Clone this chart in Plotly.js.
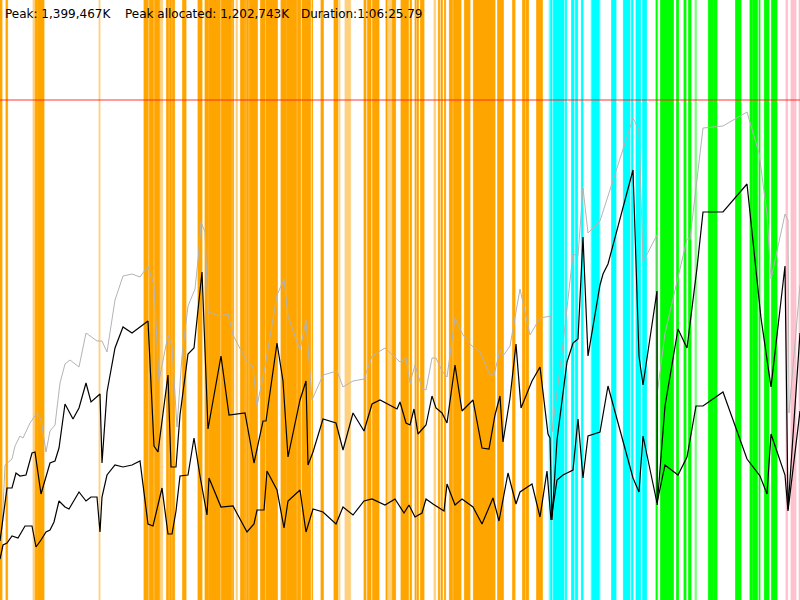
<!DOCTYPE html>
<html>
<head>
<meta charset="utf-8">
<script src="https://cdn.plot.ly/plotly-3.0.1.min.js"></script>
<style>
  html, body { margin: 0; padding: 0; background: #fff; }
  #chart { width: 800px; height: 600px; }
</style>
</head>
<body>
<div id="chart"></div>
<script>
// memory values are % of peak heap (1,399,467K = 100), time in seconds
const PEAK_LEVEL = 100;

const heapTime = [10, 25, 60, 75, 100, 115, 150, 185, 205, 230, 250, 275, 300, 325, 350, 395, 430, 485, 510, 535,
  575, 615, 660, 700, 740, 770, 795, 840, 860, 885, 910, 940, 975, 995, 1005, 1025, 1040, 1100, 1140, 1165,
  1235, 1265, 1285, 1325, 1385, 1420, 1440, 1500, 1530, 1560, 1615, 1685, 1715, 1765, 1820, 1860, 1925, 2000, 2030, 2050,
  2075, 2110, 2130, 2160, 2180, 2210, 2235, 2275, 2315, 2360, 2400, 2450, 2470, 2500, 2515, 2550, 2600, 2650, 2700, 2755,
  2760, 2815, 2865, 2890, 2915, 2940, 3000, 3165, 3195, 3215, 3285, 3286, 3325, 3435, 3450, 3515, 3615, 3735, 3795, 3835,
  3855, 3925, 3940, 3945, 4000];
const heapSize = [14, 27, 28.2, 30.8, 32.8, 32.4, 35.4, 37.4, 36.2, 29.6, 33.8, 35, 43.4, 47.2, 48, 46.6, 53.4, 51.8, 51.8, 49.6,
  60, 64.8, 65.2, 64.6, 66.8, 63, 43.8, 53, 50.8, 34.6, 48.8, 58.8, 62.2, 70, 75.6, 73.6, 57.6, 56.8, 57.2, 53,
  47.6, 46.6, 38.8, 46.6, 61, 64.2, 56.8, 50, 56, 40, 45, 45.8, 42.6, 43.8, 44.2, 48.8, 50.4, 47.6, 48.4, 43.4,
  47, 42.4, 42, 48.4, 48.4, 45.8, 44.6, 56.4, 53, 50.8, 49.6, 45, 45, 50, 48.8, 50.8, 62.2, 53, 56.4, 56.8,
  33.6, 51.2, 69.2, 68.8, 82.4, 73.4, 75.8, 96.4, 94, 67.6, 73, 41.2, 53.4, 72.2, 72.2, 94.4, 94.8, 97.6, 89.4, 77.2,
  64.2, 77.2, 76, 37.4, 63];

const usedTime = [0, 35, 60, 80, 100, 130, 160, 175, 205, 250, 275, 295, 325, 365, 395, 430, 455, 485, 500, 510,
  535, 575, 615, 660, 700, 740, 770, 790, 840, 855, 880, 900, 940, 970, 1010, 1040, 1105, 1145, 1225, 1270,
  1315, 1330, 1385, 1415, 1440, 1500, 1530, 1540, 1565, 1615, 1680, 1715, 1765, 1820, 1860, 1900, 1985, 2000, 2030, 2050,
  2070, 2090, 2130, 2160, 2180, 2210, 2235, 2275, 2310, 2365, 2410, 2445, 2475, 2500, 2515, 2550, 2580, 2605, 2660, 2700,
  2740, 2750, 2760, 2785, 2835, 2865, 2890, 2915, 2940, 3000, 3015, 3040, 3165, 3195, 3215, 3285, 3286, 3325, 3390, 3435,
  3485, 3515, 3615, 3735, 3805, 3855, 3925, 3940, 4000];
const usedMem = [11.8, 22.4, 22.4, 25.4, 24.8, 25, 29.4, 29.6, 21.2, 27.4, 27.8, 30.4, 39.2, 36.2, 38.4, 43.4, 39.6, 40.8, 41.2, 27.4,
  41.6, 50.4, 54.6, 53.4, 54.6, 55.8, 30.8, 29.6, 45, 26.6, 26.6, 37, 49.2, 50.4, 65.6, 34.2, 48.8, 37, 37.4, 27.4,
  35.8, 35.8, 51.4, 43.8, 28.6, 40, 43.8, 27, 29.6, 36.2, 35.4, 30, 37.4, 33.8, 39.2, 40, 38.2, 39.6, 35.4, 35,
  38.2, 33.2, 35, 40.8, 38.4, 37.4, 35.4, 47, 37.8, 40, 30.4, 30.2, 37, 40.8, 31.6, 40.4, 51.2, 38.4, 43.8, 46.6,
  33.2, 32.4, 16, 32, 47.6, 51.4, 52.2, 72.6, 48.8, 63, 65.2, 67.2, 86, 48.8, 43, 61.8, 19, 38.8, 54.2, 50.4,
  66.4, 77.6, 77.6, 83.2, 56.4, 42.6, 66.8, 18.2, 53.4];

const liveTime = [0, 15, 35, 60, 90, 125, 160, 180, 205, 230, 250, 270, 295, 325, 345, 395, 430, 455, 485, 500,
  510, 535, 575, 615, 660, 700, 740, 765, 810, 840, 860, 880, 900, 940, 970, 1000, 1035, 1045, 1105, 1165,
  1235, 1270, 1285, 1320, 1335, 1385, 1420, 1440, 1500, 1530, 1565, 1615, 1680, 1715, 1765, 1820, 1860, 1925, 1975, 2000,
  2020, 2045, 2075, 2110, 2130, 2165, 2220, 2235, 2275, 2310, 2365, 2410, 2465, 2495, 2540, 2580, 2600, 2660, 2700, 2735,
  2755, 2785, 2815, 2865, 2890, 2915, 2940, 3000, 3040, 3165, 3195, 3215, 3285, 3325, 3390, 3435, 3480, 3515, 3615, 3735,
  3800, 3835, 3855, 3925, 3940, 4000];
const liveMem = [8.2, 11, 11.4, 12.8, 12.4, 14.8, 14.8, 10.6, 12, 13.6, 14, 15.6, 19.8, 18.6, 18.2, 21.6, 19.8, 20.6, 20.6, 13.6,
  20.6, 25, 27, 26.6, 27, 27.8, 15.2, 14.8, 22.4, 13.2, 13.2, 17.8, 24.8, 25, 32.4, 24.8, 17, 24.4, 18.6, 18.8,
  13.6, 15.2, 18, 18, 25.8, 22, 14.4, 19.8, 22, 13.6, 18.2, 17.6, 15.2, 18.6, 17, 19.8, 20.2, 19, 20.2, 18.6,
  17.4, 19, 16.6, 17.4, 20.2, 19.2, 17.8, 23.2, 19, 20.2, 18.6, 15.2, 20.4, 15.8, 25.4, 19.2, 21.6, 23.2, 16.6, 25.8,
  16, 24, 25, 26, 36.2, 24.4, 32.8, 33.6, 42.8, 24.4, 21.6, 32.8, 19.4, 27, 25, 28.6, 38.8, 38.8, 41.6, 28.2,
  24.8, 21.2, 33.2, 25, 17.8, 37.8];

// GC events: [start, end] in seconds
const minorGc = [[0, 10], [30, 38], [177, 187], [190, 220], [720, 741], [747, 767], [773, 797], [833, 843], [848, 857],
  [862, 873], [913, 930], [990, 1010], [1025, 1042], [1045, 1100], [1108, 1158], [1163, 1168], [1203, 1220], [1223, 1228],
  [1233, 1242], [1247, 1287], [1303, 1325], [1330, 1387], [1405, 1430], [1433, 1483], [1488, 1503], [1510, 1553],
  [1560, 1563], [1605, 1617], [1670, 1690], [1820, 1830], [1838, 1855], [1863, 1895], [1930, 1935], [1962, 1978],
  [2005, 2042], [2050, 2058], [2075, 2080], [2085, 2092], [2102, 2120], [2192, 2198], [2205, 2212], [2222, 2228],
  [2247, 2262], [2267, 2305], [2322, 2350], [2367, 2475], [2488, 2517], [2563, 2575], [2613, 2625], [2630, 2643],
  [2683, 2712]];
const minorGcShort = [[165, 175], [495, 500], [800, 813], [1100, 1108], [1180, 1187], [1697, 1700], [1725, 1753],
  [1938, 1962], [2170, 2178]];
const cmsGc = [[2753, 2760], [2767, 2820], [2827, 2833], [2858, 2870], [2878, 2888], [2907, 2915], [2960, 2995],
  [3058, 3080], [3117, 3150], [3158, 3165], [3180, 3203], [3213, 3233]];
const cmsGcShort = [[2745, 2750], [2955, 2960], [2995, 3000]];
const fullGc = [[3280, 3285], [3303, 3367], [3383, 3393], [3420, 3430], [3443, 3455], [3542, 3567], [3570, 3585],
  [3678, 3705], [3750, 3762], [3765, 3787], [3795, 3800], [3822, 3845], [3858, 3885]];
const fullGcShort = [[3285, 3288], [3475, 3483]];
const finalGc = [[3930, 3938], [3955, 3972], [3975, 3980], [3995, 4000]];

const Y_MAX = 120;
const X_MAX = 4000;

function gcBars(events, color, opacity) {
  return {
    type: 'bar',
    x: events.map(e => (e[0] + e[1]) / 2),
    width: events.map(e => e[1] - e[0]),
    y: events.map(() => Y_MAX),
    base: 0,
    opacity: opacity,
    marker: { color: color, line: { color: color, width: 0.8 } },
    hoverinfo: 'skip',
    showlegend: false,
  };
}

function memLine(x, y, color, width) {
  return {
    type: 'scatter', mode: 'lines',
    x: x, y: y,
    line: { color: color, width: width },
    hoverinfo: 'skip',
    showlegend: false,
  };
}

const traces = [
  gcBars(minorGcShort, '#ffa500', 0.5),
  gcBars(minorGc, '#ffa500', 1),
  gcBars(cmsGcShort, '#00ffff', 0.5),
  gcBars(cmsGc, '#00ffff', 1),
  gcBars(fullGcShort, '#00ff00', 0.5),
  gcBars(fullGc, '#00ff00', 1),
  gcBars(finalGc, '#ffc0cb', 1),
  memLine(heapTime, heapSize, '#b4b4b4', 1),
  memLine(usedTime, usedMem, '#000000', 1.2),
  memLine(liveTime, liveMem, '#000000', 1.2),
];

const labelFont = { family: "'DejaVu Sans', sans-serif", size: 12, color: '#000' };
const labels = [
  { text: 'Peak: 1,399,467K', x: 5 },
  { text: 'Peak allocated: 1,202,743K', x: 125 },
  { text: 'Duration:1:06:25.79', x: 301 },
];

const layout = {
  width: 800, height: 600,
  margin: { t: 0, r: 0, b: 0, l: 0 },
  paper_bgcolor: '#fff',
  plot_bgcolor: '#fff',
  barmode: 'overlay',
  showlegend: false,
  xaxis: { range: [0, X_MAX], visible: false, showgrid: false, zeroline: false },
  yaxis: { range: [0, Y_MAX], visible: false, showgrid: false, zeroline: false },
  shapes: [{
    type: 'line', xref: 'paper', x0: 0, x1: 1, yref: 'y', y0: PEAK_LEVEL, y1: PEAK_LEVEL,
    line: { color: 'rgba(255,30,30,0.6)', width: 1.5 },
  }],
  annotations: labels.map(l => ({
    text: l.text, xref: 'paper', yref: 'paper',
    x: l.x / 800, y: 1, xanchor: 'left', yanchor: 'top', yshift: -5, xshift: -2,
    showarrow: false, font: labelFont,
  })),
};

Plotly.newPlot('chart', traces, layout, { displayModeBar: false, staticPlot: true });
</script>
</body>
</html>
